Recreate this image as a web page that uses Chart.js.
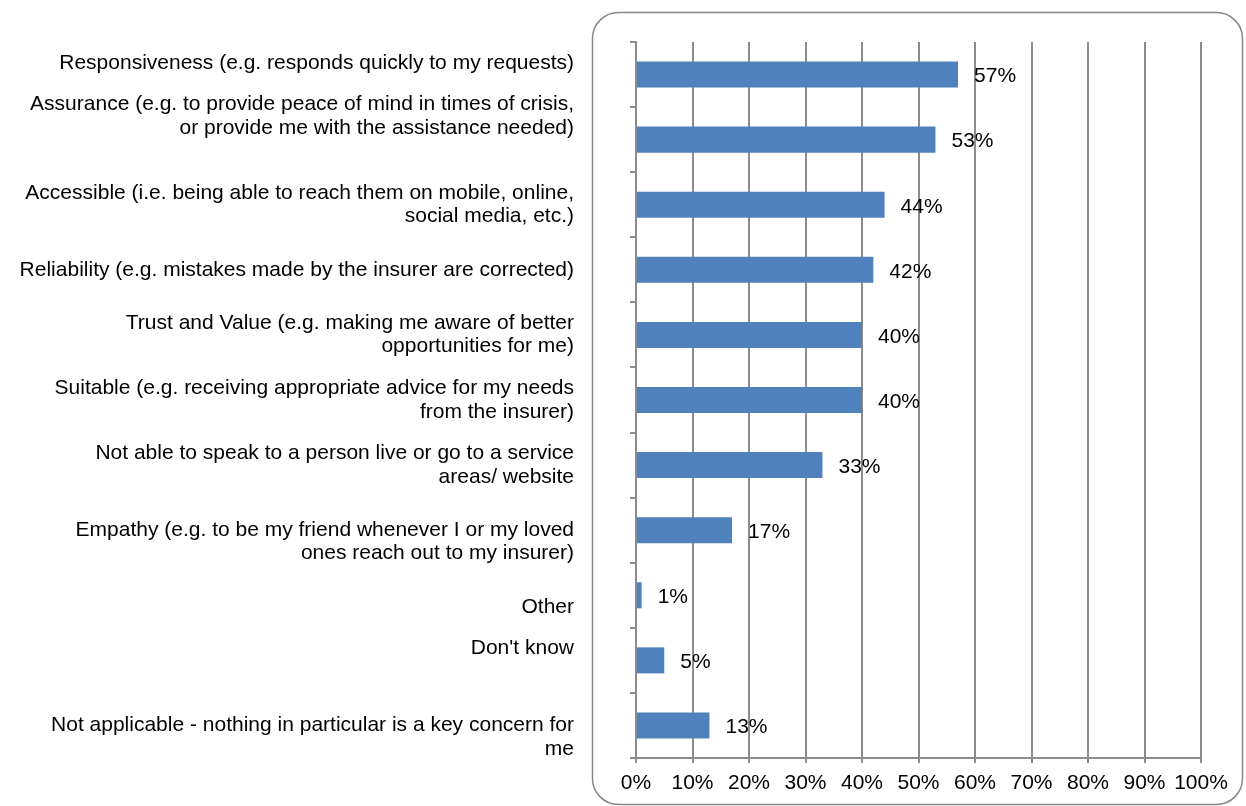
<!DOCTYPE html>
<html>
<head>
<meta charset="utf-8">
<title>Key concerns with insurer</title>
<script src="https://cdn.jsdelivr.net/npm/chart.js@4.4.1/dist/chart.umd.min.js"></script>
<style>
  html, body { margin: 0; padding: 0; background: #ffffff; }
  #wrap { width: 1246px; height: 806px; position: relative; }
</style>
</head>
<body>
<div id="wrap"><canvas id="chart" width="1246" height="806"></canvas></div>
<script>
// Category labels (one entry per line; empty lines keep Excel-like vertical spacing)
const categories = [
  ["Responsiveness (e.g. responds quickly to my requests)", ""],
  ["Assurance (e.g. to provide peace of mind in times of crisis,", "or provide me with the assistance needed)", "", ""],
  ["Accessible (i.e. being able to reach them on mobile, online,", "social media, etc.)"],
  ["Reliability (e.g. mistakes made by the insurer are corrected)"],
  ["Trust and Value (e.g. making me aware of better", "opportunities for me)"],
  ["Suitable (e.g. receiving appropriate advice for my needs", "from the insurer)"],
  ["Not able to speak to a person live or go to a service", "areas/ website"],
  ["", "Empathy (e.g. to be my friend whenever I or my loved", "ones reach out to my insurer)"],
  ["", "Other"],
  ["Don't know", ""],
  ["", "Not applicable - nothing in particular is a key concern for", "me"]
];

// Share of respondents (%)
const values = [57, 53, 44, 42, 40, 40, 33, 17, 1, 5, 13];

// X-axis tick values (%)
const xTicks = [0, 10, 20, 30, 40, 50, 60, 70, 80, 90, 100];

const FONT = "'Liberation Sans', Arial, Helvetica, sans-serif";
const FONT_SIZE = 21;
const GRID = '#8c8c8c';

// Rounded frame around the plot region
const framePlugin = {
  id: 'frame',
  beforeDraw(chart) {
    const ctx = chart.ctx;
    ctx.save();
    ctx.strokeStyle = '#878787';
    ctx.lineWidth = 1.5;
    ctx.beginPath();
    ctx.roundRect(592.5, 12.5, 650, 792, 26);
    ctx.stroke();
    ctx.restore();
  }
};

// Percentage labels to the right of each bar
const valueLabels = {
  id: 'valueLabels',
  afterDatasetsDraw(chart) {
    const ctx = chart.ctx;
    const meta = chart.getDatasetMeta(0);
    ctx.save();
    ctx.font = FONT_SIZE + 'px ' + FONT;
    ctx.fillStyle = '#000000';
    ctx.textAlign = 'left';
    ctx.textBaseline = 'middle';
    meta.data.forEach((bar, i) => {
      ctx.fillText(values[i] + '%', bar.x + 16, bar.y + 2);
    });
    ctx.restore();
  }
};

new Chart(document.getElementById('chart'), {
  type: 'bar',
  data: {
    labels: categories,
    datasets: [{
      data: values,
      backgroundColor: '#4F81BD',
      borderWidth: 0,
      categoryPercentage: 1.0,
      barPercentage: 0.4
    }]
  },
  options: {
    indexAxis: 'y',
    responsive: false,
    animation: false,
    events: [],
    layout: { padding: { top: 42, right: 45, bottom: 0, left: 0 } },
    plugins: {
      legend: { display: false },
      tooltip: { enabled: false }
    },
    scales: {
      x: {
        position: 'bottom',
        min: 0,
        max: 100,
        afterBuildTicks(scale) {
          scale.ticks = xTicks.map(v => ({ value: v }));
        },
        afterFit(scale) {
          scale.height = 48;
          scale.paddingLeft = 0;
          scale.paddingRight = 0;
        },
        grid: {
          color: GRID,
          lineWidth: 2,
          drawTicks: true,
          tickLength: 5
        },
        border: { display: true, color: GRID, width: 2 },
        ticks: {
          font: { family: FONT, size: FONT_SIZE },
          color: '#000000',
          padding: 8,
          autoSkip: false,
          maxRotation: 0,
          minRotation: 0,
          callback: v => v + '%'
        }
      },
      y: {
        position: 'left',
        offset: true,
        afterFit(scale) {
          scale.width = 636;
          scale.paddingTop = 0;
          scale.paddingBottom = 0;
        },
        grid: {
          offset: true,
          drawOnChartArea: false,
          drawTicks: true,
          tickLength: 6,
          color: GRID,
          lineWidth: 2
        },
        border: { display: true, color: GRID, width: 2 },
        ticks: {
          font: { family: FONT, size: FONT_SIZE, lineHeight: 1.12 },
          color: '#000000',
          padding: 56,
          autoSkip: false
        }
      }
    }
  },
  plugins: [framePlugin, valueLabels]
});
</script>
</body>
</html>
